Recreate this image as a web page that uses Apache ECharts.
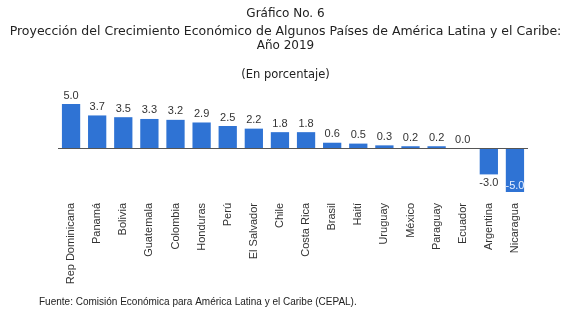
<!DOCTYPE html>
<html>
<head>
<meta charset="utf-8">
<script src="https://cdn.jsdelivr.net/npm/echarts@6/dist/echarts.min.js"></script>
<style>
  html, body { margin: 0; padding: 0; background: #fff; }
  #chart { width: 571px; height: 312px; }
</style>
</head>
<body>
<div id="chart"></div>
<script>
const countries = ['Rep Dominicana', 'Panamá', 'Bolivia', 'Guatemala', 'Colombia', 'Honduras', 'Perú',
  'El Salvador', 'Chile', 'Costa Rica', 'Brasil', 'Haití', 'Uruguay', 'México', 'Paraguay',
  'Ecuador', 'Argentina', 'Nicaragua'];
const growth = [5.0, 3.7, 3.5, 3.3, 3.2, 2.9, 2.5, 2.2, 1.8, 1.8, 0.6, 0.5, 0.3, 0.2, 0.2, 0.0, -3.0, -5.0];

const font = 'Liberation Sans, Arial, sans-serif';
const wide = 'DejaVu Sans, sans-serif';
const chart = echarts.init(document.getElementById('chart'));

// negative bars get their label underneath, the deepest one inside the bar
const barData = growth.map((v) => {
  if (v >= 0) return v;
  return {
    value: v,
    label: v <= -5
      ? { position: 'insideBottom', distance: 1, color: '#e8f0ff' }
      : { position: 'bottom' },
  };
});

const titleStyle = (size) => ({ fontFamily: wide, fontSize: size, fontWeight: 'normal', color: '#222' });

chart.setOption({
  animation: false,
  title: [
    { text: 'Gráfico No. 6', left: 'center', top: 3, textStyle: titleStyle(12) },
    { text: 'Proyección del Crecimiento Económico de Algunos Países de América Latina y el Caribe:', left: 'center', top: 20, textStyle: titleStyle(12.5) },
    { text: 'Año 2019', left: 'center', top: 35, textStyle: titleStyle(12) },
    { text: '(En porcentaje)', left: 'center', top: 64, textStyle: titleStyle(11.5) },
    { text: 'Fuente: Comisión Económica para América Latina y el Caribe (CEPAL).', left: 34, top: 292, textStyle: { fontFamily: font, fontSize: 10, fontWeight: 'normal', color: '#222' } },
  ],
  grid: { left: 58, right: 43, top: 104, bottom: 120 },
  xAxis: {
    type: 'category',
    data: countries,
    axisLine: { show: false, onZero: false },
    axisTick: { show: false },
    axisLabel: { rotate: 90, margin: 11, interval: 0, fontFamily: font, fontSize: 11, color: '#333' },
  },
  yAxis: {
    type: 'value',
    min: -5,
    max: 5,
    interval: 5,
    show: false,
  },
  series: [{
    type: 'bar',
    data: barData,
    barCategoryGap: '30%',
    itemStyle: { color: '#2f73d4' },
    label: {
      show: true,
      position: 'top',
      distance: 3,
      formatter: (p) => p.value.toFixed(1),
      fontFamily: font,
      fontSize: 11,
      color: '#333',
    },
    markLine: {
      silent: true,
      symbol: 'none',
      label: { show: false },
      lineStyle: { color: '#555', width: 1, type: 'solid' },
      data: [{ yAxis: 0 }],
    },
  }],
});
</script>
</body>
</html>
